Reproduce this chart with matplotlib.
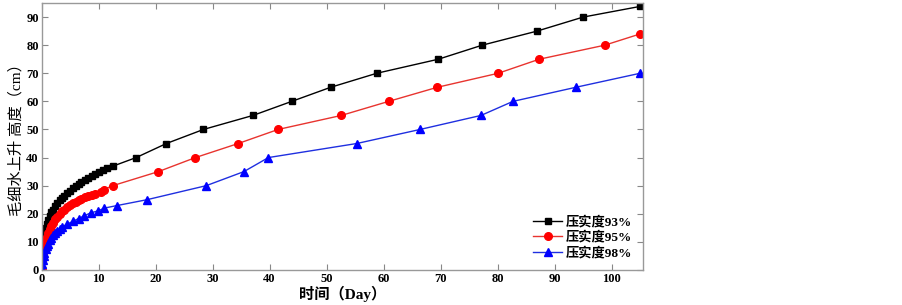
import matplotlib
matplotlib.use('Agg')
import matplotlib.pyplot as plt

# days / heights (cm)
t93 = [0, 0.1, 0.2, 0.35, 0.5, 0.7, 0.9, 1.1, 1.4, 1.7, 2.0, 2.4, 2.8, 3.2, 3.6, 4.0,
       4.5, 5.0, 5.5, 6.0, 6.5, 7.0, 7.6, 8.2, 8.8, 9.4, 10.0, 10.7, 11.4, 12.6,
       16.6, 21.9, 28.4, 37.1, 43.9, 50.7, 58.8, 69.6, 77.3, 86.9, 95.0, 105.0]
h93 = [0, 6, 9, 11.5, 13, 15, 16.5, 17.8, 19.3, 20.5, 21.5, 22.7, 23.8, 24.8, 25.6, 26.4,
       27.3, 28.2, 29, 29.8, 30.5, 31.2, 32, 32.8, 33.5, 34.2, 34.8, 35.5, 36.2, 37,
       40, 45, 50, 55, 60, 65, 70, 75, 80, 85, 90, 93.8]

t95 = [0, 0.1, 0.2, 0.35, 0.5, 0.7, 0.9, 1.1, 1.4, 1.7, 2.0, 2.4, 2.8, 3.2, 3.6, 4.0,
       4.5, 5.0, 5.5, 6.0, 6.5, 7.0, 7.6, 8.2, 8.8, 9.3, 10.4, 10.9, 12.5,
       20.5, 27.0, 34.5, 41.5, 52.6, 60.9, 69.4, 80.1, 87.3, 98.8, 105.0]
h95 = [0, 3.5, 5.5, 7.5, 9, 10.5, 11.8, 13, 14.5, 15.7, 16.8, 18, 19, 19.9, 20.8, 21.5,
       22.3, 23, 23.7, 24.3, 24.8, 25.3, 25.8, 26.2, 26.6, 27.1, 27.8, 28.6, 30,
       35, 40, 45, 50, 55, 60, 65, 70, 75, 80, 84]

t98 = [0, 0.1, 0.2, 0.35, 0.5, 0.7, 0.9, 1.1, 1.4, 1.7, 2.0, 2.4, 2.8, 3.2, 3.6, 4.5,
       5.5, 6.5, 7.4, 8.6, 9.9, 11.0, 13.2, 18.5, 28.9, 35.5, 39.8, 55.3, 66.4, 77.1,
       82.7, 93.7, 105.0]
h98 = [0, 2, 3.5, 5, 6.2, 7.5, 8.5, 9.4, 10.5, 11.5, 12.3, 13.2, 14, 14.7, 15.3, 16.3,
       17.3, 18.3, 19.2, 20.3, 21, 22, 22.9, 25, 30, 35, 40, 45, 50, 55,
       60, 65, 70]

labels = ['压实度93%', '压实度95%', '压实度98%']
xticks = list(range(0, 101, 10))
yticks = list(range(0, 91, 10))

fam = ['Liberation Serif', 'Noto Sans CJK SC']
plt.rcParams['font.family'] = fam

fig = plt.figure(figsize=(9.03, 3.05), dpi=100)
ax = fig.add_axes([0.046, 0.115, 0.666, 0.875])

ax.plot(t93, h93, color='black', lw=1.0, marker='s', ms=5, label=labels[0])
ax.plot(t95, h95, color='#e8342f', lw=1.0, marker='o', ms=5.5, mfc='red', mec='red', label=labels[1])
ax.plot(t98, h98, color='#1f2fe0', lw=1.0, marker='^', ms=6, mfc='blue', mec='blue', label=labels[2])

ax.set_xlim(0, 105.5)
ax.set_ylim(0, 95)
ax.set_xticks(xticks)
ax.set_yticks(yticks)
ax.tick_params(direction='in', top=True, right=True, length=4, width=0.8,
               color='#888888', labelsize=9, pad=2)
for lab in ax.get_xticklabels() + ax.get_yticklabels():
    lab.set_fontweight('bold')
for sp in ax.spines.values():
    sp.set_color('#999999')
    sp.set_linewidth(1.0)

ax.set_xlabel('时间（Day）', fontsize=11, fontweight='bold', labelpad=1)
ax.set_ylabel('毛细水上升 高度（cm）', fontsize=11, labelpad=2)

leg = ax.legend(loc='lower right', frameon=False, fontsize=9.5, handlelength=2.2,
                handletextpad=0.3, labelspacing=0.2, borderaxespad=0.4)
for txt in leg.get_texts():
    txt.set_fontweight('bold')

fig.savefig('out.png', dpi=100)
